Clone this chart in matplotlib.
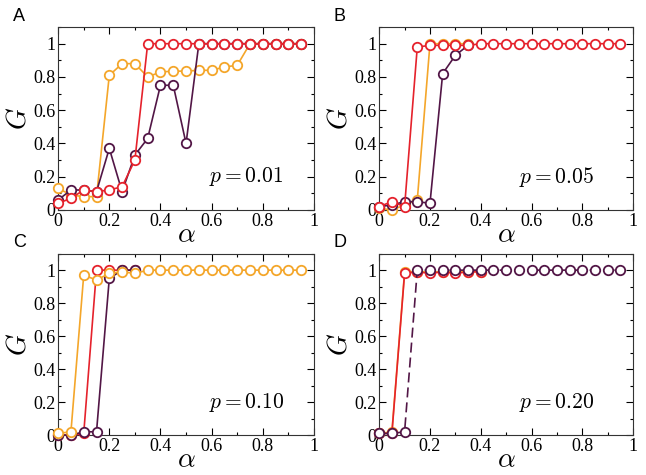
"""Four-panel G(alpha) curves for p = 0.01, 0.05, 0.10, 0.20."""
import matplotlib
matplotlib.use("Agg")
import matplotlib.pyplot as plt
from matplotlib.ticker import MultipleLocator, FormatStrFormatter

plt.rcParams["mathtext.fontset"] = "cm"
plt.rcParams["font.family"] = ["Liberation Serif", "DejaVu Serif"]

ALPHA = [0.0, 0.05, 0.1, 0.15, 0.2, 0.25, 0.3, 0.35, 0.4, 0.45,
         0.5, 0.55, 0.6, 0.65, 0.7, 0.75, 0.8, 0.85, 0.9, 0.95]

ORANGE = "#f4a62a"
RED = "#e5222c"
PURPLE = "#521646"

# panel A, p = 0.01
A_ORANGE = [0.13, 0.09, 0.08, 0.08, 0.81, 0.88, 0.88, 0.80, 0.83, 0.835,
            0.835, 0.84, 0.84, 0.86, 0.87, 1.0, 1.0, 1.0, 1.0, 1.0]
A_PURPLE = [0.06, 0.12, 0.12, 0.11, 0.37, 0.11, 0.33, 0.43, 0.75, 0.75,
            0.40, 1.0, 1.0, 1.0, 1.0, 1.0, 1.0, 1.0, 1.0, 1.0]
A_RED = [0.04, 0.07, 0.12, 0.11, 0.12, 0.14, 0.30, 1.0, 1.0, 1.0,
         1.0, 1.0, 1.0, 1.0, 1.0, 1.0, 1.0, 1.0, 1.0, 1.0]

# panel B, p = 0.05
B_ORANGE = [0.01, 0.0, 0.03, 0.06, 1.0, 1.0, 1.0, 1.0]
B_PURPLE = [0.02, 0.03, 0.05, 0.05, 0.04, 0.82, 0.93, 0.99]
B_RED = [0.02, 0.05, 0.02, 0.98, 0.99, 0.99, 0.99, 0.99, 1.0, 1.0,
         1.0, 1.0, 1.0, 1.0, 1.0, 1.0, 1.0, 1.0, 1.0, 1.0]

# panel C, p = 0.10
C_RED = [0.0, 0.0, 0.01, 1.0, 1.0, 1.0, 1.0]
C_PURPLE = [0.0, 0.0, 0.02, 0.02, 0.95, 1.0, 1.0]
C_ORANGE = [0.01, 0.02, 0.97, 0.94, 0.98, 0.99, 0.98, 1.0, 1.0, 1.0,
            1.0, 1.0, 1.0, 1.0, 1.0, 1.0, 1.0, 1.0, 1.0, 1.0]

# panel D, p = 0.20
D_ORANGE = [0.01, 0.02, 0.99, 0.99, 0.99, 0.99, 0.99, 0.99, 0.99]
D_RED = [0.01, 0.01, 0.98, 0.99, 0.98, 0.99, 0.98, 0.99, 0.99]
D_PURPLE = [0.01, 0.01, 0.02, 1.0, 1.0, 1.0, 1.0, 1.0, 1.0, 1.0,
            1.0, 1.0, 1.0, 1.0, 1.0, 1.0, 1.0, 1.0, 1.0, 1.0]

PANELS = [
    ("A", "0.01", [(A_ORANGE, ORANGE, "-"), (A_PURPLE, PURPLE, "-"), (A_RED, RED, "-")]),
    ("B", "0.05", [(B_ORANGE, ORANGE, "-"), (B_PURPLE, PURPLE, "-"), (B_RED, RED, "-")]),
    ("C", "0.10", [(C_RED, RED, "-"), (C_PURPLE, PURPLE, "-"), (C_ORANGE, ORANGE, "-")]),
    ("D", "0.20", [(D_ORANGE, ORANGE, "-"), (D_RED, RED, "-"), (D_PURPLE, PURPLE, (0, (6, 3)))]),
]

# axes rectangles in figure fraction (left, bottom, width, height)
RECTS = [
    (0.090, 0.558, 0.396, 0.385),
    (0.587, 0.558, 0.393, 0.385),
    (0.090, 0.084, 0.396, 0.382),
    (0.587, 0.084, 0.393, 0.382),
]
TEXT_X = [0.59, 0.55, 0.59, 0.55]

fig = plt.figure(figsize=(6.46, 4.75), dpi=100)

for (letter, p, series), rect, tx in zip(PANELS, RECTS, TEXT_X):
    ax = fig.add_axes(rect)
    for vals, col, ls in series:
        ax.plot(ALPHA[:len(vals)], vals, color=col, ls=ls, lw=1.2,
                marker="o", ms=6.8, mfc="white", mec=col, mew=1.3,
                clip_on=False, zorder=3)
    ax.set_xlim(0, 1)
    ax.set_ylim(0, 1.1)
    ax.xaxis.set_major_locator(MultipleLocator(0.2))
    ax.xaxis.set_minor_locator(MultipleLocator(0.1))
    ax.yaxis.set_major_locator(MultipleLocator(0.2))
    ax.yaxis.set_minor_locator(MultipleLocator(0.1))
    ax.xaxis.set_major_formatter(FormatStrFormatter("%g"))
    ax.yaxis.set_major_formatter(FormatStrFormatter("%g"))
    ax.tick_params(which="both", direction="in", top=True, right=True,
                   labelsize=13, pad=2)
    ax.tick_params(which="major", length=5, width=0.8)
    ax.tick_params(which="minor", length=2.5, width=0.8)
    for s in ax.spines.values():
        s.set_linewidth(0.8)
        s.set_color("#333333")
    ax.set_xlabel(r"$\alpha$", fontsize=20, labelpad=-5)
    ax.set_ylabel(r"$G$", fontsize=20, labelpad=1)
    ax.text(tx, 0.2, r"$p = %s$" % p, fontsize=15.5, ha="left", va="center")
    fig.text(rect[0] - 0.07, rect[1] + rect[3] + 0.005, letter,
             family="Liberation Sans", fontsize=13, va="bottom")

fig.savefig("out.png", dpi=100)
